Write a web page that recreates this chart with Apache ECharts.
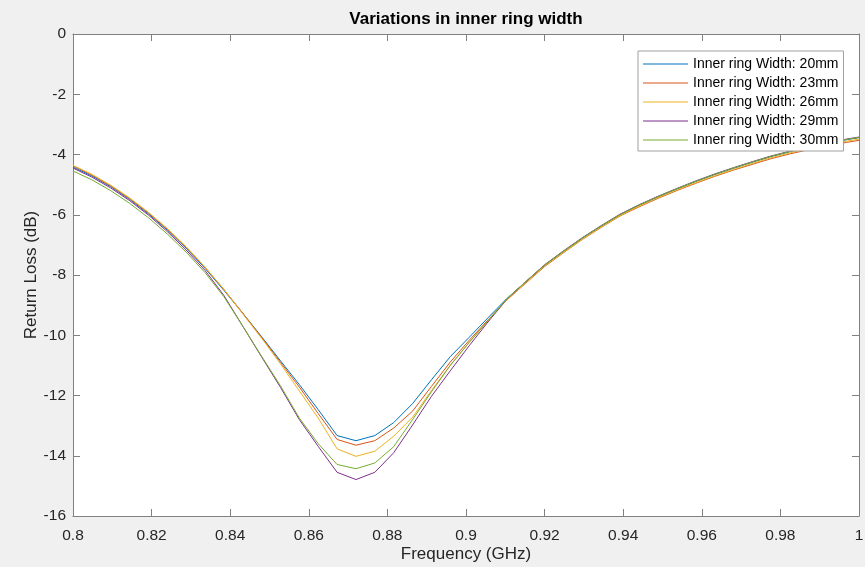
<!DOCTYPE html>
<html><head><meta charset="utf-8">
<script src="https://cdn.jsdelivr.net/npm/echarts@6/dist/echarts.min.js"></script>
<style>html,body{margin:0;padding:0;background:#f0f0f0}#c{width:865px;height:567px}</style>
</head><body><div id="c"></div>
<script>
// Frequency samples (GHz)
const freq = [0.8000,0.8048,0.8096,0.8144,0.8192,0.8240,0.8288,0.8336,0.8384,0.8432,
  0.8480,0.8528,0.8576,0.8624,0.8672,0.8720,0.8768,0.8816,0.8864,0.8912,
  0.8960,0.9008,0.9056,0.9104,0.9152,0.9200,0.9248,0.9296,0.9344,0.9392,
  0.9440,0.9488,0.9536,0.9584,0.9632,0.9680,0.9728,0.9776,0.9824,0.9872,
  0.9920,0.9968,1.0000];
// Return loss (dB) per inner ring width
const w20 = [-4.42,-4.71,-5.07,-5.49,-5.97,-6.51,-7.11,-7.78,-8.51,-9.27,
  -10.05,-10.85,-11.64,-12.47,-13.33,-13.50,-13.33,-12.90,-12.27,-11.48,
  -10.71,-10.07,-9.42,-8.78,-8.23,-7.68,-7.22,-6.78,-6.38,-6.00,
  -5.69,-5.41,-5.15,-4.90,-4.67,-4.46,-4.26,-4.07,-3.91,-3.76,
  -3.63,-3.51,-3.44];
const w23 = [-4.38,-4.68,-5.04,-5.46,-5.94,-6.48,-7.08,-7.75,-8.48,-9.27,
  -10.07,-10.90,-11.72,-12.60,-13.46,-13.65,-13.50,-13.08,-12.52,-11.70,
  -10.89,-10.17,-9.49,-8.83,-8.27,-7.72,-7.26,-6.82,-6.42,-6.04,
  -5.74,-5.46,-5.20,-4.96,-4.73,-4.52,-4.33,-4.14,-3.98,-3.84,
  -3.71,-3.60,-3.53];
const w26 = [-4.36,-4.66,-5.02,-5.44,-5.92,-6.46,-7.06,-7.74,-8.48,-9.29,
  -10.10,-10.95,-11.85,-12.75,-13.77,-14.02,-13.85,-13.35,-12.72,-11.84,
  -11.00,-10.24,-9.52,-8.82,-8.25,-7.70,-7.25,-6.81,-6.41,-6.03,
  -5.72,-5.44,-5.18,-4.94,-4.71,-4.50,-4.30,-4.11,-3.95,-3.80,
  -3.68,-3.56,-3.49];
const w29 = [-4.45,-4.75,-5.11,-5.53,-6.01,-6.56,-7.17,-7.85,-8.68,-9.70,
  -10.72,-11.73,-12.80,-13.69,-14.55,-14.79,-14.55,-13.90,-12.98,-12.03,
  -11.18,-10.35,-9.56,-8.80,-8.22,-7.66,-7.20,-6.76,-6.36,-5.98,
  -5.67,-5.39,-5.13,-4.88,-4.65,-4.44,-4.24,-4.05,-3.89,-3.74,
  -3.61,-3.49,-3.42];
const w30 = [-4.55,-4.84,-5.20,-5.62,-6.10,-6.64,-7.24,-7.92,-8.72,-9.70,
  -10.70,-11.68,-12.75,-13.60,-14.29,-14.43,-14.24,-13.70,-12.80,-11.88,
  -11.00,-10.24,-9.52,-8.79,-8.22,-7.67,-7.21,-6.77,-6.37,-5.99,
  -5.68,-5.40,-5.14,-4.89,-4.66,-4.45,-4.25,-4.06,-3.90,-3.75,
  -3.62,-3.50,-3.43];
const seriesNames = ['Inner ring Width: 20mm','Inner ring Width: 23mm','Inner ring Width: 26mm','Inner ring Width: 29mm','Inner ring Width: 30mm'];
const seriesValues = [w20, w23, w26, w29, w30];
const colors = ['#0072BD','#D95319','#EDB120','#7E2F8E','#77AC30'];
const xRange = [0.8, 1.0, 0.02];
const yRange = [-16, 0, 2];
const titleText = 'Variations in inner ring width';
const xName = 'Frequency (GHz)';
const yName = 'Return Loss (dB)';

const FONT = 'Liberation Sans, Arial, Helvetica, sans-serif';
const axisCol = '#808080';
const txtCol = '#262626';
function xFmt(v){ return String(+v.toFixed(2)); }
function mkAxis(extra){
  return Object.assign({
    type:'value',
    axisLine:{show:true, onZero:false, lineStyle:{color:axisCol, width:1}},
    axisTick:{show:true, inside:true, length:7, lineStyle:{color:axisCol, width:1}},
    splitLine:{show:false},
    nameMoveOverlap:false,
  }, extra);
}
const chart = echarts.init(document.getElementById('c'), null, {renderer:'canvas'});
chart.setOption({
  animation:false,
  backgroundColor:'#f0f0f0',
  textStyle:{fontFamily:FONT},
  title:{text:titleText, left:466, top:11, textAlign:'center', padding:0,
    textStyle:{fontSize:17, fontWeight:'bold', color:'#000', fontFamily:FONT}},
  grid:{left:73, right:6, top:34, bottom:51, show:true, backgroundColor:'#fff', borderWidth:0,
    containLabel:false, outerBoundsMode:'none'},
  legend:{left:638, top:51, orient:'vertical', backgroundColor:'#fff', borderColor:'#a0a0a0', borderWidth:1,
    padding:[6,5,4,5], icon:'rect', itemWidth:45, itemHeight:1, itemGap:5,
    textStyle:{fontSize:14, color:'#000', lineHeight:14, fontFamily:FONT},
    data:seriesNames},
  xAxis:[
    mkAxis({position:'bottom', min:xRange[0], max:xRange[1], interval:xRange[2],
      axisLabel:{color:txtCol, fontSize:15.5, margin:12, formatter:xFmt, fontFamily:FONT},
      name:xName, nameLocation:'middle', nameGap:30,
      nameTextStyle:{fontSize:17, color:txtCol, fontFamily:FONT}}),
    mkAxis({position:'top', min:xRange[0], max:xRange[1], interval:xRange[2], axisLabel:{show:false}})
  ],
  yAxis:[
    mkAxis({position:'left', min:yRange[0], max:yRange[1], interval:yRange[2],
      axisLabel:{color:txtCol, fontSize:15.5, margin:7, fontFamily:FONT},
      name:yName, nameLocation:'middle', nameGap:33,
      nameTextStyle:{fontSize:17, color:txtCol, fontFamily:FONT}}),
    mkAxis({position:'right', min:yRange[0], max:yRange[1], interval:yRange[2], axisLabel:{show:false}})
  ],
  series: seriesNames.map((n,i)=>({
    name:n, type:'line', xAxisIndex:0, yAxisIndex:0, symbol:'none', smooth:false,
    lineStyle:{color:colors[i], width:1}, itemStyle:{color:colors[i]},
    data: freq.map((f,j)=>[f, seriesValues[i][j]])
  }))
});
</script></body></html>
